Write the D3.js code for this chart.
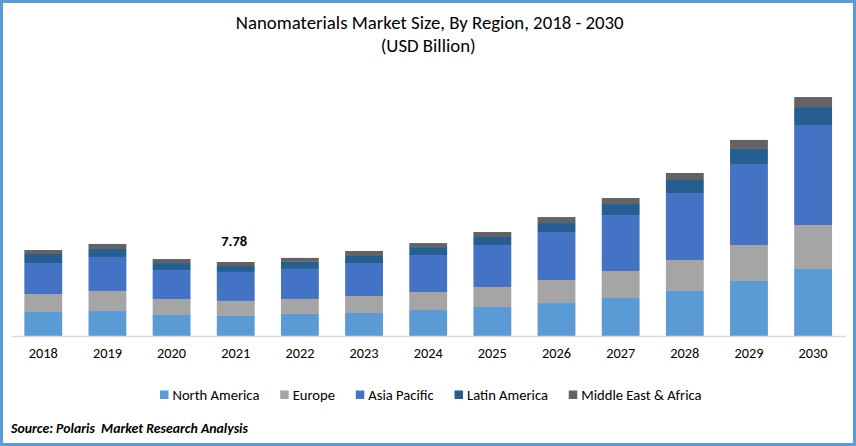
<!DOCTYPE html>
<html>
<head>
<meta charset="utf-8">
<script src="https://cdn.jsdelivr.net/npm/d3@7/dist/d3.min.js"></script>
<style>
html,body{margin:0;padding:0;background:#fff;overflow:hidden}
text{font-family:Carlito,Lato,"Open Sans",sans-serif;fill:#000}
</style>
</head>
<body>
<svg id="chart" width="856" height="446"></svg>
<script>
const years = ["2018","2019","2020","2021","2022","2023","2024","2025","2026","2027","2028","2029","2030"];
const regions = ["North America","Europe","Asia Pacific","Latin America","Middle East & Africa"];
const colors = ["#5b9bd5","#a5a5a5","#4472c4","#255e91","#636363"];
const northAmerica = [2.53,2.63,2.21,2.11,2.32,2.42,2.74,3.05,3.47,4.00,4.74,5.79,7.05];
const europe = [1.89,2.11,1.68,1.58,1.58,1.79,1.89,2.11,2.42,2.84,3.26,3.79,4.63];
const asiaPacific = [3.26,3.58,3.05,3.05,3.16,3.47,3.89,4.42,5.05,5.89,7.05,8.53,10.53];
const latinAmerica = [0.95,0.84,0.74,0.63,0.74,0.74,0.84,0.84,0.95,1.16,1.37,1.58,1.89];
const middleEastAfrica = [0.42,0.53,0.42,0.42,0.42,0.53,0.42,0.53,0.63,0.63,0.74,0.95,1.05];
const calloutYear = "2021";
const calloutLabel = "7.78";
const titleLines = ["Nanomaterials Market Size, By Region, 2018 - 2030","(USD Billion)"];
const sourceText = "Source: Polaris  Market Research Analysis";

const svg = d3.select("#chart");
const seriesValues = [northAmerica, europe, asiaPacific, latinAmerica, middleEastAfrica];
const rows = years.map((y,i)=>{
  const r = {year:y};
  regions.forEach((name,j)=>{ r[name]=seriesValues[j][i]; });
  return r;
});
const stacked = d3.stack().keys(regions)(rows);

const x = d3.scaleBand().domain(years).range([11.2,845.2]).paddingInner(0.41).paddingOuter(0.205);
const y = d3.scaleLinear().domain([0,26]).range([336,336-26*9.5]);

// frame
svg.append("rect").attr("x",1.5).attr("y",1.5).attr("width",853).attr("height",443)
  .attr("fill","#fff").attr("stroke","#5b9bd5").attr("stroke-width",3);

// title
svg.append("g").selectAll("text").data(titleLines).join("text")
  .attr("x",(d,i)=>i===0?429.7:428.2).attr("y",(d,i)=>29+i*22.5)
  .attr("text-anchor","middle").attr("font-size",18.8).text(d=>d);

// bars
svg.append("g").selectAll("g").data(stacked).join("g")
  .attr("fill",(d,i)=>colors[i])
  .selectAll("rect").data(d=>d).join("rect")
  .attr("x",d=>x(d.data.year))
  .attr("width",x.bandwidth())
  .attr("y",d=>y(d[1]))
  .attr("height",d=>y(d[0])-y(d[1]));

// axis
const axis = svg.append("g").attr("transform","translate(0,336)")
  .call(d3.axisBottom(x).tickSize(0).tickPadding(12));
axis.select(".domain").attr("stroke","#d9d9d9").attr("stroke-width",1.5);
axis.selectAll("text").attr("font-size",14.3).style("font-family","Carlito,Lato,sans-serif").attr("fill","#000");

// callout
const total2021 = d3.sum(seriesValues, s=>s[years.indexOf(calloutYear)]);
svg.append("text").attr("x",x(calloutYear)+x.bandwidth()/2-1.5).attr("y",y(total2021)-16)
  .attr("text-anchor","middle").attr("font-size",14.5).attr("font-weight",700).text(calloutLabel);

// legend
const legend = svg.append("g");
let cursor = 160;
regions.forEach((name,i)=>{
  legend.append("rect").attr("x",cursor).attr("y",390.5).attr("width",8.5).attr("height",8.5).attr("fill",colors[i]);
  const t = legend.append("text").attr("x",cursor+12.5).attr("y",399.5).attr("font-size",14.6).text(name);
  cursor += 12.5 + t.node().getComputedTextLength() + 20.8;
});

// source
svg.append("text").attr("x",11).attr("y",433).attr("font-size",13.8)
  .attr("font-weight",700).attr("font-style","italic").style("white-space","pre").text(sourceText);
</script>
</body>
</html>
